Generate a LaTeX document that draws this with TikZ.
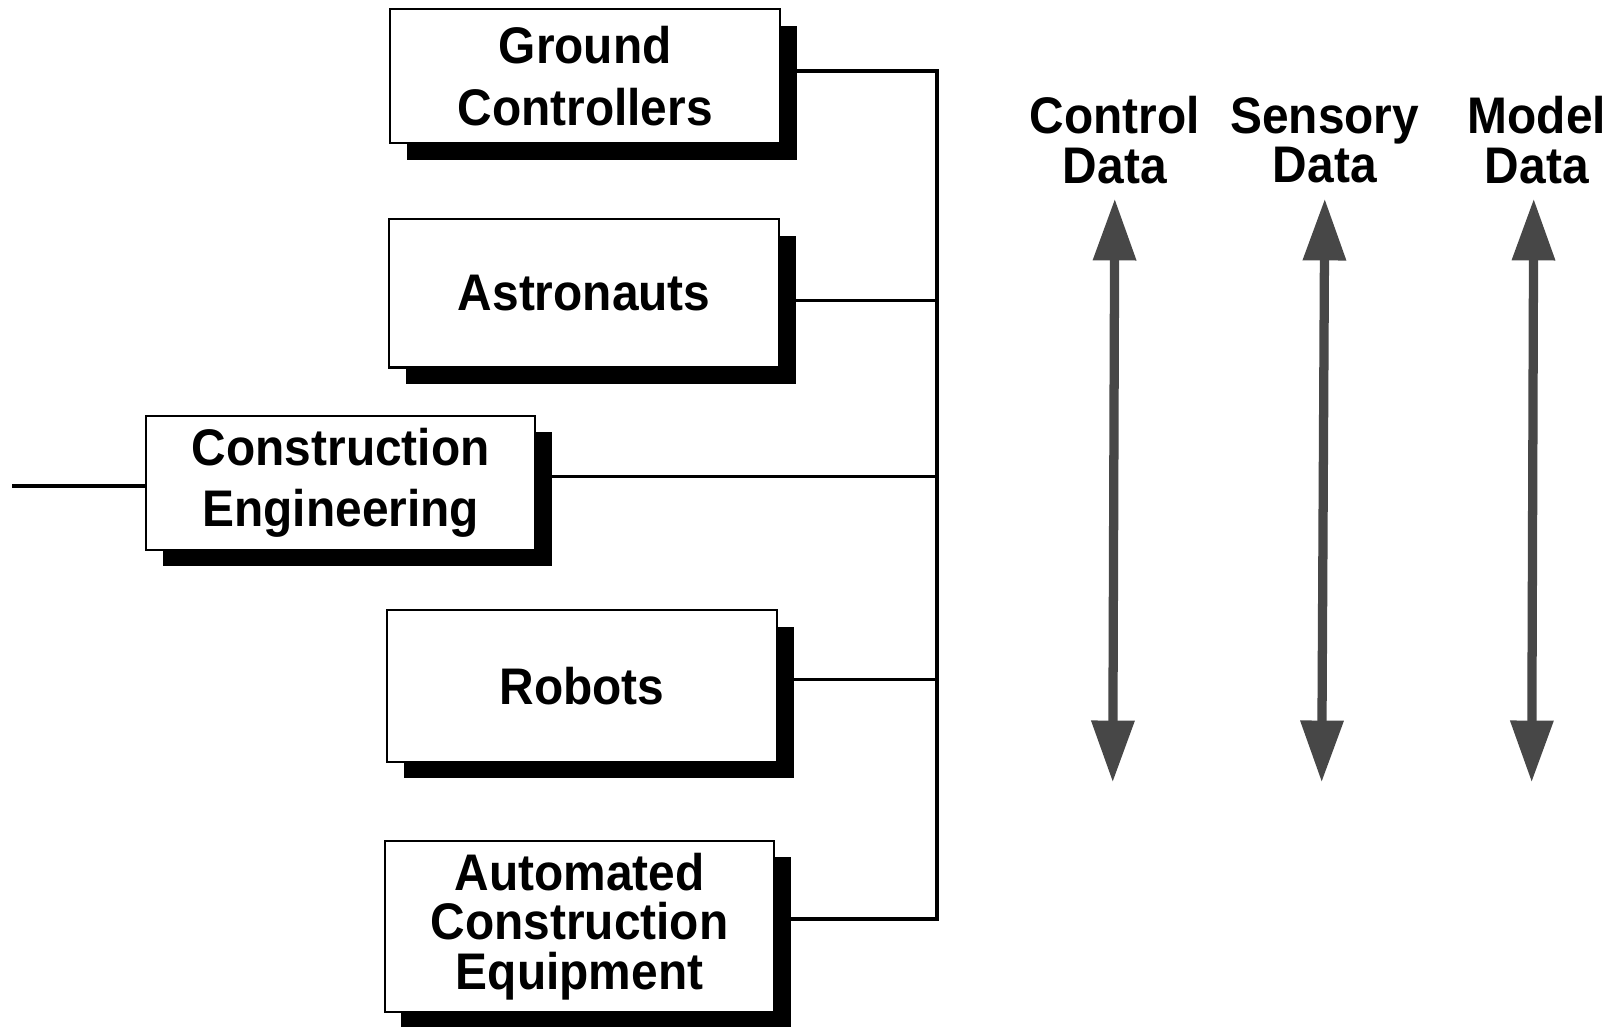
\documentclass[tikz,border=0pt]{standalone}
\usepackage{fontspec}
\newfontfamily\labfont[FakeStretch=0.93]{Liberation Sans}
\usetikzlibrary{arrows.meta,shadows,calc}
\begin{document}
\begin{tikzpicture}[x=1pt,y=-1pt,
  box/.style={draw, line width=2pt, fill=white, inner sep=0pt, align=center,
    font=\labfont\bfseries\fontsize{50}{60}\selectfont,
    general shadow={fill=black, shadow xshift=16pt, shadow yshift=-16pt}},
  tightbox/.style={box, font=\labfont\bfseries\fontsize{50}{48}\selectfont},
  lab/.style={inner sep=0pt, align=center, font=\labfont\bfseries\fontsize{50}{48}\selectfont},
  conn/.style={line width=3.5pt, line cap=rect},
  dataarrow/.style={line width=9pt, draw=black!72,
    {Triangle[length=60pt,width=40pt,fill=black!72]}-{Triangle[length=60pt,width=40pt,fill=black!72]}}
]
\useasboundingbox (0,0) rectangle (1568,997);

% boxes
\node[box, minimum width=379pt, minimum height=130pt] (gc) at (568.5,74) {Ground\\Controllers};
\node[box, minimum width=379pt, minimum height=144pt] (as) at (567.5,285) {Astronauts};
\node[box, minimum width=378pt, minimum height=130pt] (ce) at (331,469) {Construction\\Engineering};
\node[box, minimum width=379pt, minimum height=147pt] (ro) at (565.5,666.5) {Robots};
\node[tightbox, minimum width=378pt, minimum height=166pt] (ac) at (563,900) {Automated\\Construction\\Equipment};

% bus
\coordinate (bgc) at (910,69);
\coordinate (bas) at (910,292);
\coordinate (bce) at (910,463);
\coordinate (bro) at (910,660);
\coordinate (bac) at (910,893);
\coordinate (lin) at (13,472);

\draw[conn] (gc.east |- bgc) -- (bgc);
\draw[conn] (as.east |- bas) -- (bas);
\draw[conn] (ce.east |- bce) -- (bce);
\draw[conn] (ro.east |- bro) -- (bro);
\draw[conn] (ac.east |- bac) -- (bac);
\draw[conn] (bgc) -- (bac);
\draw[conn] (lin) -- (lin -| ce.west);

% data labels
\node[lab] (cd) at (1083,136) {Control\\Data};
\node[lab] (sd) at (1287,136) {Sensory\\Data};
\node[lab] (md) at (1493,136) {Model\\Data};

% arrows
\coordinate (ct) at (1083,193);
\coordinate (cb) at (1081,760);
\coordinate (st) at (1287,193);
\coordinate (sb) at (1284,760);
\coordinate (mt) at (1490,193);
\coordinate (mb) at (1488,760);
\draw[dataarrow] (ct) -- (cb);
\draw[dataarrow] (st) -- (sb);
\draw[dataarrow] (mt) -- (mb);
\end{tikzpicture}
\end{document}
